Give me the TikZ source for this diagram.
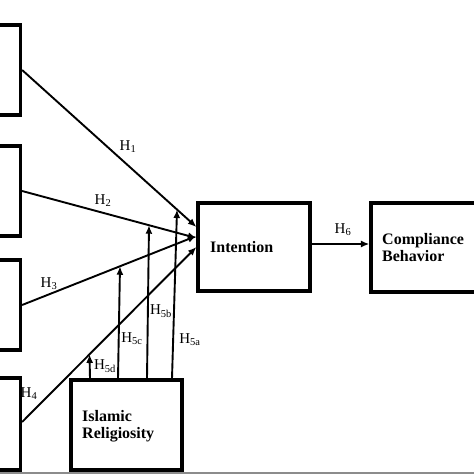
\documentclass[tikz,border=0pt]{standalone}
\usepackage{fontspec}
\setmainfont{Liberation Serif}
\usetikzlibrary{arrows.meta,calc}
\tikzset{
  box/.style={draw=black, line width=3.2pt, minimum width=#1, inner sep=0pt},
  conn/.style={line width=1.9pt, -{Latex[length=8.5pt,width=7pt]}},
  hlab/.style={font=\fontsize{15}{17}\selectfont, inner sep=0pt},
  btxt/.style={font=\fontsize{16}{17.5}\bfseries\selectfont, align=left, inner sep=0pt, anchor=west}
}
\newcommand{\hsub}[2]{#1\textsubscript{#2}}
\begin{document}
\begin{tikzpicture}[x=1pt,y=-1pt]
\useasboundingbox (0,0) rectangle (474,474);
\fill[white] (0,0) rectangle (474,474);
\fill[black!45] (0,471.5) rectangle (474,474);
% boxes
\node[box=32pt, minimum height=90pt] (b1) at (4.5,70) {};
\node[box=32pt, minimum height=90pt] (b2) at (4.5,191) {};
\node[box=32pt, minimum height=90pt] (b3) at (4.5,305) {};
\node[box=32pt, minimum height=92pt] (b4) at (4.5,424) {};
\node[box=111pt, minimum height=90pt] (rel) at (126.5,425) {};
\node[box=112pt, minimum height=88pt] (int) at (254,247) {};
\node[box=120pt, minimum height=89pt] (comp) at (431,247.5) {};
% texts
\node[btxt] (tint) at (210,247) {Intention};
\node[btxt] (tcomp) at (382,247.5) {Compliance\\Behavior};
\node[btxt] (trel) at (82,426) {Islamic\\Religiosity};
% end points
\coordinate (e1) at (int.west |- 0,227);
\coordinate (e2) at (int.west |- 0,238);
\coordinate (e3) at (int.west |- 0,236);
\coordinate (e4) at (int.west |- 0,247);
\draw[conn] (b1.east) -- (e1);
\draw[conn] (b2.east) -- (e2);
\draw[conn] (b3.east) -- (e3);
\draw[conn] (b4.east |- 0,422) -- (e4);
\coordinate (m1) at (intersection of b1.east--e1 and 177,0--177,500);
\coordinate (m2) at (intersection of b2.east--e2 and 149,0--149,500);
\coordinate (m3) at (intersection of b3.east--e3 and 120,0--120,500);
\coordinate (b4e) at (b4.east |- 0,422);
\coordinate (m4) at (intersection of b4e--e4 and 89.5,0--89.5,500);
\draw[conn] (rel.north -| 172,0) -- (m1);
\draw[conn] (rel.north -| 147,0) -- (m2);
\draw[conn] (rel.north -| 118,0) -- (m3);
\draw[conn] (rel.north -| 90,0) -- (m4);
\draw[conn] (int.east |- 0,244) -- (comp.west |- 0,244);
% labels
\node[hlab] (l1) at (128,147) {\hsub{H}{1}};
\node[hlab] (l2) at (103,201) {\hsub{H}{2}};
\node[hlab] (l3) at (49,284) {\hsub{H}{3}};
\node[hlab] (l4) at (29,394) {\hsub{H}{4}};
\node[hlab] (l5d) at (105,366) {\hsub{H}{5d}};
\node[hlab] (l5c) at (132,339) {\hsub{H}{5c}};
\node[hlab] (l5b) at (161,311) {\hsub{H}{5b}};
\node[hlab] (l5a) at (190,340) {\hsub{H}{5a}};
\node[hlab] (l6) at (343,230) {\hsub{H}{6}};
\end{tikzpicture}
\end{document}
